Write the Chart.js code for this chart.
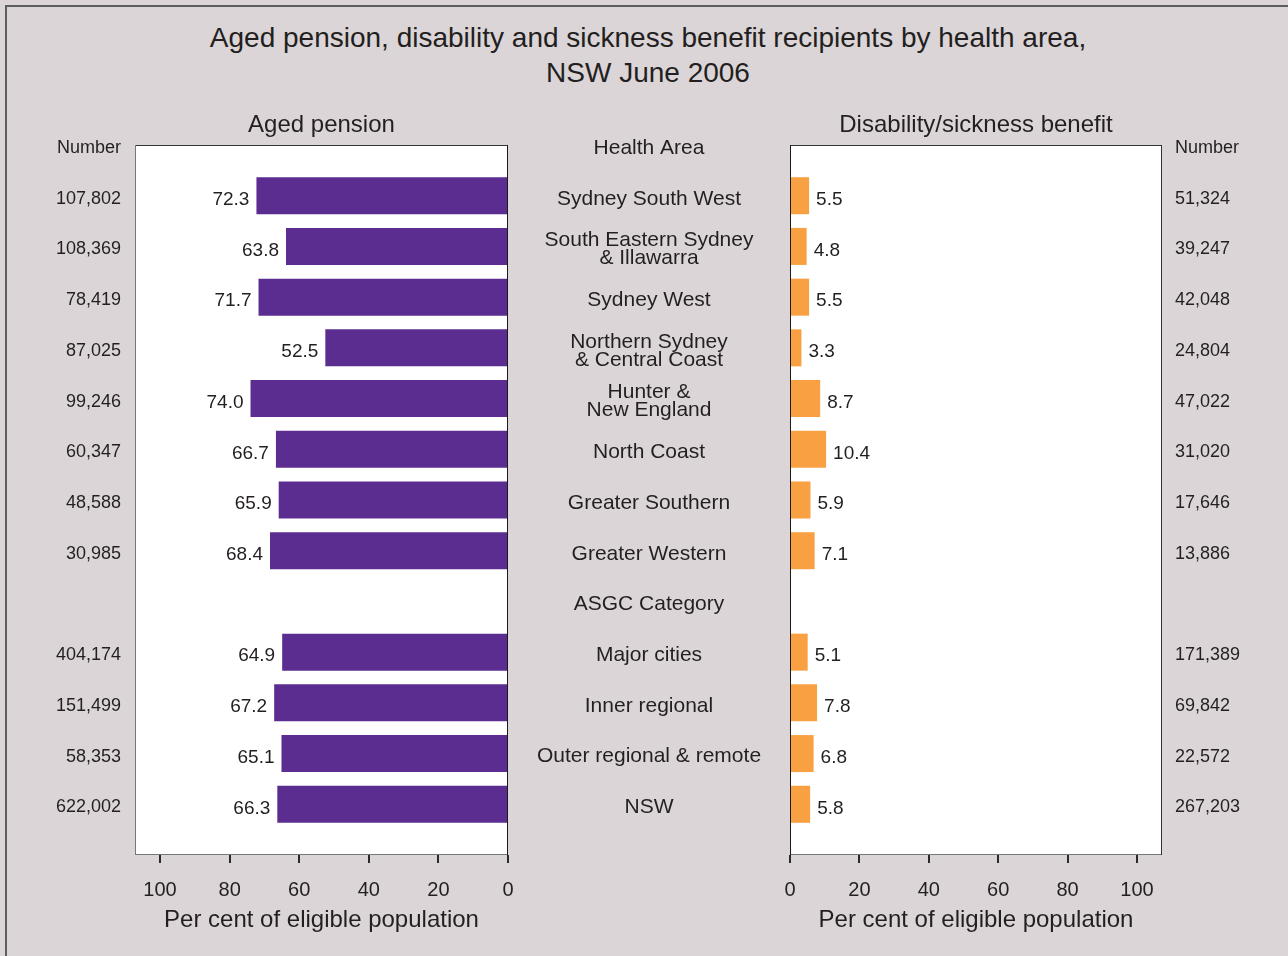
<!DOCTYPE html>
<html>
<head>
<title>Aged pension and disability benefit recipients</title>
<style>
body {
	margin: 0;
	background: #dbd5d7;
	font-family: "Liberation Sans", Arial, sans-serif;
	color: #231f20;
}
#frame {
	position: absolute;
	left: 5px;
	top: 5px;
	width: 1300px;
	height: 960px;
	border-top: 2px solid #5e5e5e;
	border-left: 2px solid #5e5e5e;
}
#main-title {
	position: absolute;
	left: 0;
	width: 1296px;
	top: 20px;
	text-align: center;
	font-size: 28px;
	line-height: 35px;
}
#left-chart {
	position: absolute;
	left: 0;
	top: 0;
}
#right-chart {
	position: absolute;
	left: 700px;
	top: 0;
}
</style>
</head>
<body>
<div id="frame"></div>
<div id="main-title">Aged pension, disability and sickness benefit recipients by health area,<br>NSW June 2006</div>
<canvas id="left-chart" width="790" height="956"></canvas>
<canvas id="right-chart" width="588" height="956"></canvas>
<script src="https://cdn.jsdelivr.net/npm/chart.js@4.4.1/dist/chart.umd.min.js"></script>
<script>
	var areas = ['Sydney South West', ['South Eastern Sydney', '& Illawarra'], 'Sydney West',
		['Northern Sydney', '& Central Coast'], ['Hunter &', 'New England'], 'North Coast',
		'Greater Southern', 'Greater Western', 'ASGC Category', 'Major cities', 'Inner regional',
		'Outer regional & remote', 'NSW'];
	var agedPct = [72.3, 63.8, 71.7, 52.5, 74.0, 66.7, 65.9, 68.4, null, 64.9, 67.2, 65.1, 66.3];
	var agedNum = ['107,802', '108,369', '78,419', '87,025', '99,246', '60,347', '48,588', '30,985', '',
		'404,174', '151,499', '58,353', '622,002'];
	var disPct = [5.5, 4.8, 5.5, 3.3, 8.7, 10.4, 5.9, 7.1, null, 5.1, 7.8, 6.8, 5.8];
	var disNum = ['51,324', '39,247', '42,048', '24,804', '47,022', '31,020', '17,646', '13,886', '',
		'171,389', '69,842', '22,572', '267,203'];
	var xTicks = [0, 20, 40, 60, 80, 100];

	var FONT = '"Liberation Sans", Arial, sans-serif';
	var INK = '#231f20';
	Chart.defaults.font.family = FONT;
	Chart.defaults.color = INK;

	// header row on top, empty slot at the bottom, rows sit on slot boundaries
	var rowLabels = ['Health Area'].concat(areas, ['']);
	var agedRows = [null].concat(agedPct, [null]);
	var disRows = [null].concat(disPct, [null]);
	var agedNumLabels = ['Number'].concat(agedNum, ['']);
	var disNumLabels = ['Number'].concat(disNum, ['']);

	// centre the health area labels in the gap between the two panels
	var probe = document.createElement('canvas').getContext('2d');
	probe.font = '21px ' + FONT;
	var widest = 0;
	areas.forEach(function(a) {
		[].concat(a).forEach(function(line) {
			widest = Math.max(widest, probe.measureText(line).width);
		});
	});
	var gapWidth = 282;
	var areaPadding = gapWidth / 2 - widest / 2;

	function fixWidth(w) {
		return function(scale) { scale.width = w; };
	}

	// white plot background and the box round it
	var plotBox = {
		id: 'plotBox',
		beforeDraw: function(chart) {
			var a = chart.chartArea, ctx = chart.ctx;
			ctx.save();
			ctx.fillStyle = '#ffffff';
			ctx.fillRect(a.left, a.top, a.right - a.left, a.bottom - a.top);
			ctx.restore();
		},
		afterDraw: function(chart) {
			var a = chart.chartArea, ctx = chart.ctx;
			var c = chart.options.plugins.plotBox;
			function line(x1, y1, x2, y2, col) {
				ctx.beginPath();
				ctx.strokeStyle = col;
				ctx.moveTo(x1, y1);
				ctx.lineTo(x2, y2);
				ctx.stroke();
			}
			ctx.save();
			ctx.lineWidth = 1;
			line(a.left, a.top + 0.5, a.right, a.top + 0.5, c.top);
			line(a.left, a.bottom - 0.5, a.right, a.bottom - 0.5, c.bottom);
			line(a.left + 0.5, a.top, a.left + 0.5, a.bottom, c.left);
			line(a.right - 0.5, a.top, a.right - 0.5, a.bottom, c.right);
			ctx.restore();
		}
	};

	// value labels beside the end of each bar
	var barValues = {
		id: 'barValues',
		afterDatasetsDraw: function(chart) {
			var ctx = chart.ctx;
			var side = chart.options.plugins.barValues.side;
			var meta = chart.getDatasetMeta(0);
			var values = chart.data.datasets[0].data;
			ctx.save();
			ctx.font = '19px ' + FONT;
			ctx.fillStyle = INK;
			ctx.textBaseline = 'middle';
			ctx.textAlign = side < 0 ? 'right' : 'left';
			meta.data.forEach(function(bar, i) {
				if (values[i] === null) return;
				ctx.fillText(values[i].toFixed(1), bar.x + side * 7, bar.y + 4);
			});
			ctx.restore();
		}
	};

	function xAxis(reverse) {
		return {
			type: 'linear',
			reverse: reverse,
			min: 0,
			max: 107.2,
			afterBuildTicks: function(scale) {
				scale.ticks = xTicks.map(function(v) { return {value: v}; });
			},
			afterFit: function(scale) { scale.height = 101; },
			border: {display: false},
			grid: {drawOnChartArea: false, drawTicks: true, tickLength: 8, color: '#2a2a2a', lineWidth: 2},
			ticks: {padding: 15, maxRotation: 0, autoSkip: false, font: {size: 20}, color: INK},
			title: {display: true, text: 'Per cent of eligible population', font: {size: 24},
				color: INK, padding: {top: 0, bottom: 21}}
		};
	}

	function numAxis(pos, labels, width, pad) {
		return {
			type: 'category',
			position: pos,
			labels: labels,
			offset: false,
			afterFit: fixWidth(width),
			border: {display: false},
			grid: {display: false, drawTicks: false},
			ticks: {autoSkip: false, padding: pad, labelOffset: 3, font: {size: 18}, color: INK}
		};
	}

	function panelTitle(text) {
		return {display: true, text: text, fullSize: false, color: INK,
			font: {size: 24, weight: 'normal'}, padding: {top: 15.6, bottom: 5.6}};
	}

	new Chart(document.getElementById('left-chart'), {
		type: 'bar',
		data: {
			labels: rowLabels,
			datasets: [{
				data: agedRows,
				backgroundColor: '#5c2d91',
				categoryPercentage: 1,
				barPercentage: 0.73
			}]
		},
		options: {
			responsive: false,
			animation: false,
			indexAxis: 'y',
			layout: {padding: {top: 95, left: 0, right: 0, bottom: 0}},
			scales: {
				x: xAxis(true),
				y: {
					type: 'category',
					position: 'right',
					offset: false,
					afterFit: fixWidth(gapWidth),
					border: {display: false},
					grid: {display: false, drawTicks: false},
					ticks: {autoSkip: false, padding: areaPadding, crossAlign: 'center', labelOffset: 3,
						font: {size: 21, lineHeight: 0.86}, color: INK}
				},
				yNum: numAxis('left', agedNumLabels, 135, 14)
			},
			plugins: {
				legend: {display: false},
				tooltip: {enabled: false},
				title: panelTitle('Aged pension'),
				barValues: {side: -1},
				plotBox: {top: '#333', bottom: '#777', left: '#777', right: '#1a1a1a'}
			}
		},
		plugins: [plotBox, barValues]
	});

	new Chart(document.getElementById('right-chart'), {
		type: 'bar',
		data: {
			labels: rowLabels,
			datasets: [{
				data: disRows,
				backgroundColor: '#f9a043',
				categoryPercentage: 1,
				barPercentage: 0.73
			}]
		},
		options: {
			responsive: false,
			animation: false,
			indexAxis: 'y',
			layout: {padding: {top: 95, left: 90, right: 0, bottom: 0}},
			scales: {
				x: xAxis(false),
				y: {type: 'category', offset: false, display: false},
				yNum: numAxis('right', disNumLabels, 126, 13)
			},
			plugins: {
				legend: {display: false},
				tooltip: {enabled: false},
				title: panelTitle('Disability/sickness benefit'),
				barValues: {side: 1},
				plotBox: {top: '#333', bottom: '#777', left: '#1a1a1a', right: '#333'}
			}
		},
		plugins: [plotBox, barValues]
	});
</script>
</body>
</html>
